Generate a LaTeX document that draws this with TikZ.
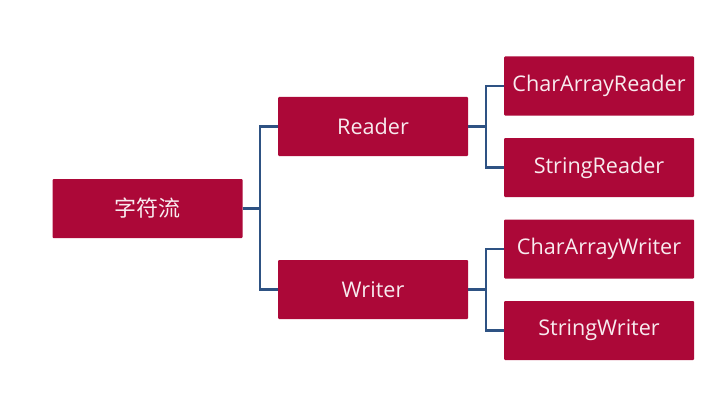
\documentclass[tikz,border=0pt]{standalone}
\usepackage{fontspec}
\setmainfont{Open Sans}
\newfontfamily\cjk{Noto Sans CJK SC}
\usetikzlibrary{positioning}
\definecolor{boxred}{HTML}{AC0838}
\definecolor{linkblue}{HTML}{2E5283}

\begin{document}
\begin{tikzpicture}[x=1pt, y=-1pt, box/.style = {fill=boxred, text=white!92!boxred, minimum width=190pt, minimum height=59pt, inner sep=0pt, rounded corners=1pt, font=\fontsize{21.6}{25}\selectfont}, link/.style = {draw=linkblue, line width=2.4pt}]
            \useasboundingbox (0,0) rectangle (727,401);
            \node[box] (stream)  at (147.5,208.5) {\cjk\fontsize{22}{26}\selectfont 字符流};
            \node[box] (reader)  at (373,126.5) {Reader};
            \node[box] (writer)  at (373,289.5) {Writer};
            \node[box] (car) at (599,86) {CharArrayReader};
            \node[box] (sr)  at (599,167.5) {StringReader};
            \node[box] (caw) at (599,249) {CharArrayWriter};
            \node[box] (sw)  at (599,330.5) {StringWriter};
            \draw[link] (stream.east) -- ++(17.5,0) |- (reader.west);
            \draw[link] (stream.east) -- ++(17.5,0) |- (writer.west);
            \draw[link] (reader.east) -- ++(17.5,0) |- (car.west);
            \draw[link] (reader.east) -- ++(17.5,0) |- (sr.west);
            \draw[link] (writer.east) -- ++(17.5,0) |- (caw.west);
            \draw[link] (writer.east) -- ++(17.5,0) |- (sw.west);
        \end{tikzpicture}
\end{document}
